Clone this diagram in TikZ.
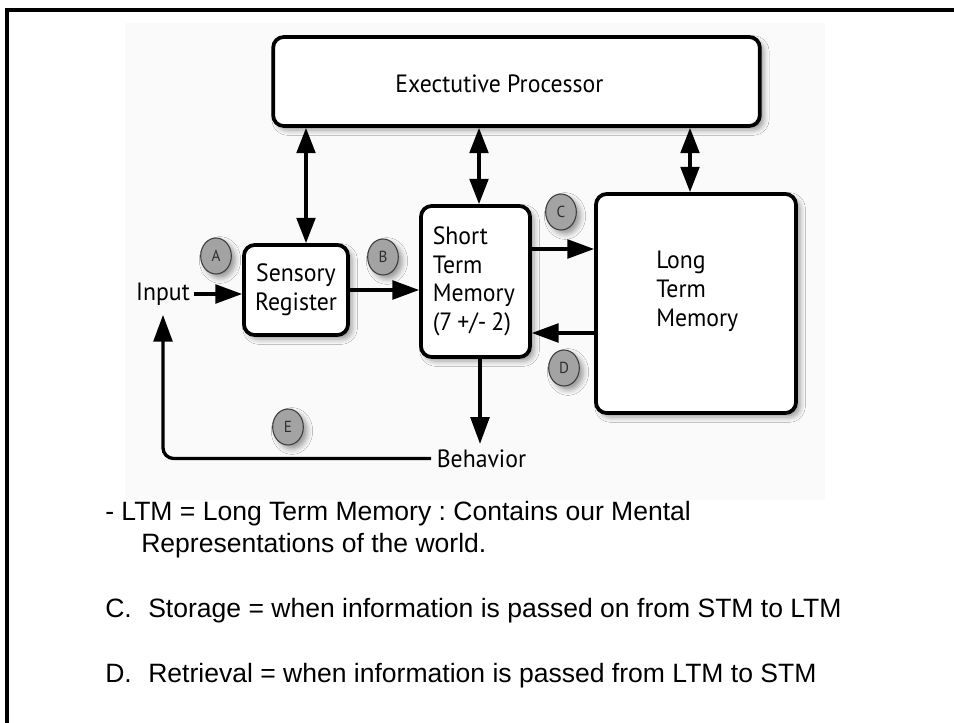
\documentclass[tikz,border=0pt]{standalone}
\usepackage{fontspec}
\setmainfont{Liberation Sans}
\newfontfamily\diagfont[FakeStretch=0.95]{PT Sans}
\usetikzlibrary{arrows.meta,shadows.blur,shapes.geometric,calc}

\definecolor{panelbg}{HTML}{FAFAFA}
\definecolor{badgefill}{HTML}{A3A3A3}
\definecolor{badgeline}{HTML}{3C3C3C}
\definecolor{badgetext}{HTML}{2E2E2E}

\tikzset{
  softshadow/.style={blur shadow={shadow xshift=3pt,shadow yshift=-3pt,
      shadow blur radius=4pt,shadow opacity=40}},
  box/.style={draw=black,line width=2.8pt,rounded corners=8pt,fill=white,
      inner sep=0pt,softshadow},
  lbl/.style={font=\diagfont\fontsize{18.75}{21.5}\selectfont,inner sep=0pt},
  badge/.style={ellipse,draw=badgeline,line width=0.8pt,fill=badgefill,
      minimum width=23pt,minimum height=27pt,inner sep=0pt,
      font=\diagfont\fontsize{12}{13}\selectfont,text=badgetext,softshadow},
  arr/.style={line width=2.5pt,-{Triangle[length=20pt,width=14pt]}},
  dbl/.style={line width=2.5pt,{Triangle[length=19pt,width=14pt]}-{Triangle[length=19pt,width=14pt]}},
  note/.style={font=\fontsize{19.9}{23}\selectfont\frenchspacing,inner sep=0pt,anchor=base west},
}

\begin{document}
\begin{tikzpicture}[x=0.75pt,y=-0.75pt]
\useasboundingbox (0,0) rectangle (954,723);

% light panel behind the diagram
\fill[panelbg] (125,23) rectangle (825,500);

% page frame (top and left edges)
\draw[line width=2.3pt] (7,723) -- (7,10) -- (954,10);

% boxes
\node[box,minimum width=365pt,minimum height=66.75pt] (exec) at (516.5,81.5) {};
\node[lbl] (exectext) at (499.5,84) {Exectutive Processor};

\node[box,minimum width=78pt,minimum height=67.5pt,lbl,inner sep=0pt,align=center]
  (sensory) at (296,290) {Sensory\\Register};

\node[box,minimum width=81.75pt,minimum height=113.25pt,lbl,align=left,
  text width=64pt] (stm) at (475.5,281.5)
  {Short\\Term\\Memory\\(7\hspace{0.2em}+/-\hspace{0.2em}2)};

\node[box,minimum width=150pt,minimum height=164.25pt] (ltm) at (696,303.5) {};
\node[lbl,align=left,anchor=north west] (ltmtext) at (656,251) {Long\\Term\\Memory};

% free-standing labels
\node[lbl,inner sep=3pt] (input) at (163,294) {Input};
\node[lbl,inner sep=4pt] (behavior) at (481.5,458.5) {Behavior};

% helper coordinates for connector positions
\coordinate (xa) at (306,0);
\coordinate (xb) at (479,0);
\coordinate (xc) at (690,0);
\coordinate (xd) at (480,0);
\coordinate (yc) at (0,249);
\coordinate (yd) at (0,333);

% connectors
\draw[dbl] (exec.south -| xa) -- (sensory.north -| xa);
\draw[dbl] (exec.south -| xb) -- (stm.north -| xb);
\draw[dbl] (exec.south -| xc) -- (ltm.north -| xc);

\draw[arr] (input.east) -- (input.east -| sensory.west);
\draw[arr] (sensory.east) -- (sensory.east -| stm.west);
\draw[arr] (stm.east |- yc) -- (ltm.west |- yc);
\draw[arr] (ltm.west |- yd) -- (stm.east |- yd);
\draw[arr] (stm.south -| xd) -- (behavior.north -| xd);
\draw[arr,rounded corners=8pt] (behavior.west) -| ([yshift=-4pt]input.south);

% step badges
\node[badge] (ba) at (216,256) {A};
\node[badge] (bb) at (383,257) {B};
\node[badge] (bc) at (561,212) {C};
\node[badge] (bd) at (564,368) {D};
\node[badge] (be) at (288,427) {E};

% notes below the diagram
\node[note] (n1) at (105,521) {- LTM = Long Term Memory : Contains our Mental};
\node[note] (n2) at (141,553) {Representations of the world.};
\node[note] (n3) at (105,618) {\makebox[32.25pt][l]{C.}Storage = when information is passed on from STM to LTM};
\node[note] (n4) at (105,682) {\makebox[32.25pt][l]{D.}Retrieval = when information is passed from LTM to STM};
\end{tikzpicture}
\end{document}
